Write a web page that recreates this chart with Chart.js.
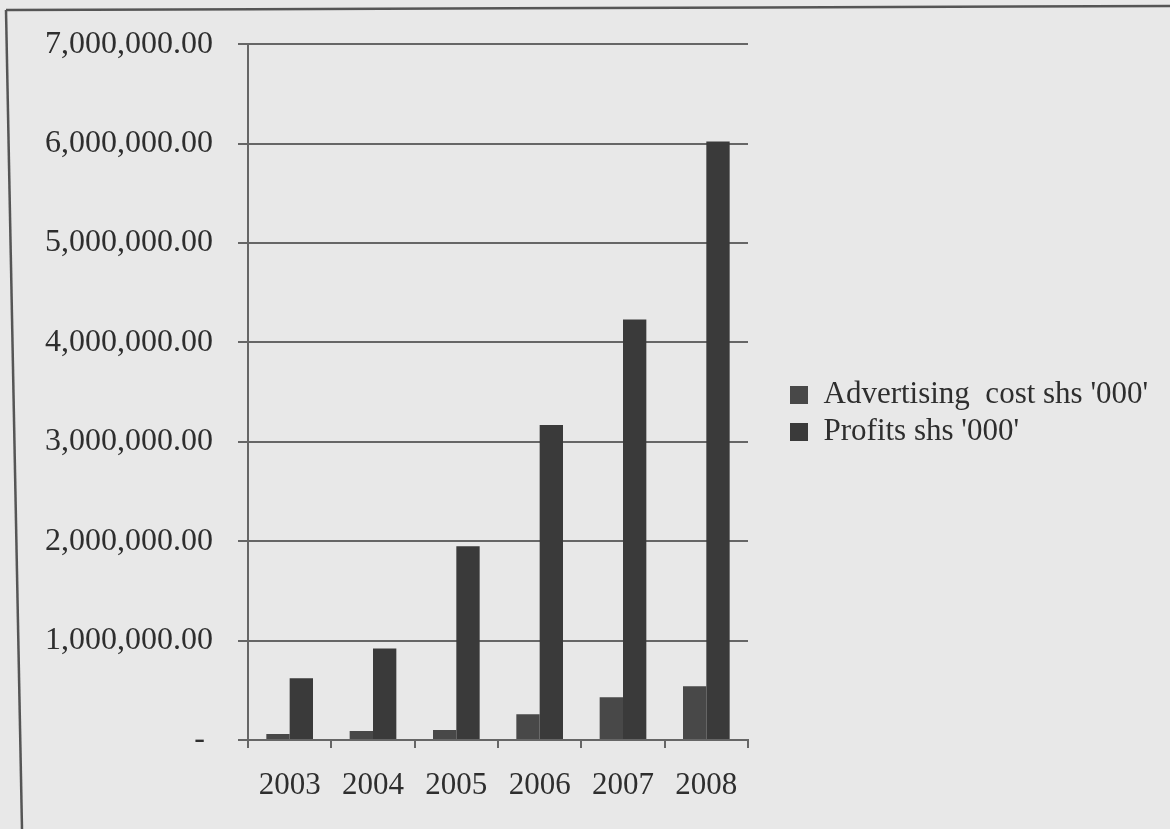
<!DOCTYPE html>
<html>
<head>
<meta charset="utf-8">
<title>Advertising cost and profits</title>
<script src="https://cdn.jsdelivr.net/npm/chart.js@4.4.1/dist/chart.umd.min.js"></script>
<style>
    html, body { margin: 0; padding: 0; background: #e8e8e8; overflow: hidden; }
    #wrap { position: relative; width: 1170px; height: 829px; }
    #frame { position: absolute; left: 0; top: 0; }
    canvas { position: absolute; left: 0; top: 0; }
</style>
</head>
<body>
<div id="wrap">
    <svg id="frame" width="1170" height="829">
        <line x1="6" y1="10" x2="1170" y2="6" stroke="#555" stroke-width="2.5"/>
        <line x1="6" y1="10" x2="22" y2="829" stroke="#555" stroke-width="2.5"/>
    </svg>
    <canvas id="chart" width="1170" height="829"></canvas>
</div>
<script>
// values (shs '000')
const years = ['2003', '2004', '2005', '2006', '2007', '2008'];
const advertisingCost = [60000, 90000, 100000, 260000, 430000, 540000];
const profits = [620000, 920000, 1950000, 3170000, 4230000, 6020000];
const seriesNames = ["Advertising  cost shs '000'", "Profits shs '000'"];

const serif = '"Liberation Serif", "DejaVu Serif", serif';
const inkColor = '#2e2e2e';
const lineColor = '#666666';

// put the legend where the scan has it, to the right of the plot
const legendPlace = {
    id: 'legendPlace',
    afterLayout(chart) {
        const lg = chart.legend;
        const w = lg.width;
        lg.left = 784;
        lg.right = 784 + w;
        lg.top = 63.5;
        lg.bottom = 763.5;
    }
};

const ctx = document.getElementById('chart').getContext('2d');
new Chart(ctx, {
    type: 'bar',
    data: {
        labels: years,
        datasets: [{
            label: seriesNames[0],
            data: advertisingCost,
            backgroundColor: '#484848',
            borderWidth: 0
        }, {
            label: seriesNames[1],
            data: profits,
            backgroundColor: '#3a3a3a',
            borderWidth: 0
        }]
    },
    options: {
        responsive: false,
        animation: false,
        layout: { padding: { top: 40, right: 422, bottom: 0, left: 0 } },
        datasets: { bar: { categoryPercentage: 0.56, barPercentage: 1.0 } },
        scales: {
            x: {
                afterFit: scale => { scale.height = 89; },
                grid: { display: true, drawOnChartArea: false, drawTicks: true, tickLength: 8, color: lineColor, lineWidth: 2, offset: true },
                border: { display: true, color: lineColor, width: 2 },
                ticks: { color: inkColor, padding: 19, font: { family: serif, size: 31 } }
            },
            y: {
                min: 0,
                max: 7000000,
                afterFit: scale => { scale.width = 248; },
                grid: { color: lineColor, lineWidth: 2, tickLength: 10 },
                border: { display: true, color: lineColor, width: 2 },
                ticks: {
                    stepSize: 1000000,
                    color: inkColor,
                    padding: 25,
                    font: { family: serif, size: 32 },
                    callback: v => v === 0 ? '- ' : v.toLocaleString('en-US', { minimumFractionDigits: 2, maximumFractionDigits: 2 })
                }
            }
        },
        plugins: {
            legend: {
                position: 'chartArea',
                align: 'center',
                labels: {
                    color: inkColor,
                    boxWidth: 18,
                    boxHeight: 18,
                    padding: 6,
                    font: { family: serif, size: 31 }
                }
            },
            tooltip: { enabled: false }
        }
    },
    plugins: [legendPlace]
});
</script>
</body>
</html>
